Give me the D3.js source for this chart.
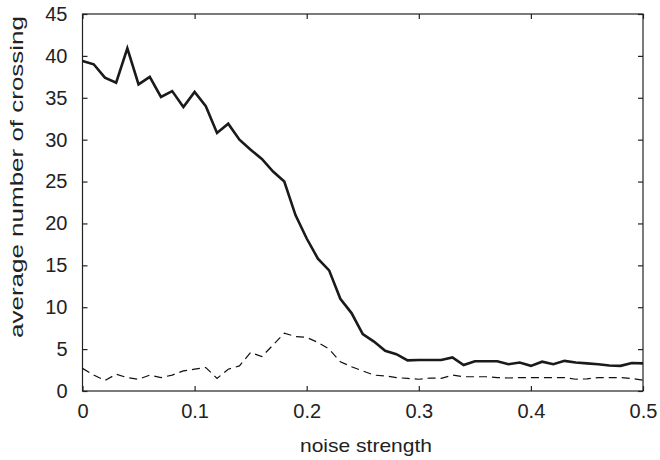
<!DOCTYPE html>
<html>
<head>
<meta charset="utf-8">
<script src="https://cdn.jsdelivr.net/npm/d3@7"></script>
<style>
  html, body { margin: 0; padding: 0; background: #fff; }
  svg { display: block; }
  text { font-family: "Liberation Sans", Arial, sans-serif; fill: #222; }
</style>
</head>
<body>
<svg id="chart" width="660" height="460"></svg>
<script>
const noise = d3.range(51).map(i => +(i * 0.01).toFixed(2));
const solidValues = [
  39.4, 39.0, 37.4, 36.8, 40.9, 36.6, 37.5, 35.1, 35.8, 33.9,
  35.7, 34.0, 30.8, 31.9, 30.0, 28.8, 27.7, 26.2, 25.0, 21.0,
  18.2, 15.8, 14.4, 11.0, 9.3, 6.8, 5.9, 4.8, 4.4, 3.65,
  3.7, 3.7, 3.7, 4.0, 3.1, 3.55, 3.55, 3.55, 3.2, 3.4,
  3.0, 3.5, 3.2, 3.6, 3.4, 3.3, 3.2, 3.05, 3.0, 3.35, 3.3
];
const dashedValues = [
  2.7, 1.9, 1.25, 2.0, 1.6, 1.4, 1.9, 1.6, 1.9, 2.4,
  2.6, 2.8, 1.5, 2.6, 3.0, 4.6, 4.1, 5.5, 6.9, 6.5,
  6.4, 5.8, 5.0, 3.5, 2.9, 2.4, 1.9, 1.8, 1.6, 1.5,
  1.4, 1.55, 1.5, 1.9, 1.7, 1.7, 1.7, 1.6, 1.55, 1.6,
  1.6, 1.6, 1.6, 1.6, 1.4, 1.45, 1.6, 1.6, 1.6, 1.5, 1.3
];
const xTicks = [0, 0.1, 0.2, 0.3, 0.4, 0.5];
const yTicks = [0, 5, 10, 15, 20, 25, 30, 35, 40, 45];
const xLabel = "noise strength";
const yLabel = "average number of crossing";

const svg = d3.select("#chart");
const m = { left: 82.5, right: 643, top: 14, bottom: 391 };
const x = d3.scaleLinear().domain([0, 0.5]).range([m.left, m.right]);
const y = d3.scaleLinear().domain([0, 45]).range([m.bottom, m.top]);

const tickLen = 5;
svg.append("rect")
  .attr("x", m.left).attr("y", m.top)
  .attr("width", m.right - m.left).attr("height", m.bottom - m.top)
  .attr("fill", "none").attr("stroke", "#222").attr("stroke-width", 1.2);

const fmtX = d => d === 0 ? "0" : d3.format(".1f")(d);

const gB = svg.append("g").attr("transform", `translate(0,${m.bottom})`)
  .call(d3.axisBottom(x).tickValues(xTicks).tickSize(-tickLen).tickPadding(13).tickFormat(fmtX));
const gT = svg.append("g").attr("transform", `translate(0,${m.top})`)
  .call(d3.axisTop(x).tickValues(xTicks).tickSize(-tickLen).tickFormat(""));
const gL = svg.append("g").attr("transform", `translate(${m.left},0)`)
  .call(d3.axisLeft(y).tickValues(yTicks).tickSize(-tickLen).tickPadding(15));
const gR = svg.append("g").attr("transform", `translate(${m.right},0)`)
  .call(d3.axisRight(y).tickValues(yTicks).tickSize(-tickLen).tickFormat(""));

[gB, gT, gL, gR].forEach(g => {
  g.select(".domain").remove();
  g.selectAll(".tick line").attr("stroke", "#222").attr("stroke-width", 1.2);
  g.selectAll(".tick text").attr("font-size", 20).attr("fill", "#222")
    .style("font-family", "'Liberation Sans', Arial, sans-serif");
});

const line = d3.line().x((d, i) => x(noise[i])).y(d => y(d));

svg.append("clipPath").attr("id", "clip").append("rect")
  .attr("x", m.left).attr("y", m.top).attr("width", m.right - m.left).attr("height", m.bottom - m.top);

svg.append("path").datum(dashedValues)
  .attr("clip-path", "url(#clip)")
  .attr("d", line).attr("fill", "none").attr("stroke", "#111")
  .attr("stroke-width", 1.2).attr("stroke-dasharray", "8,5");

svg.append("path").datum(solidValues)
  .attr("clip-path", "url(#clip)")
  .attr("d", line).attr("fill", "none").attr("stroke", "#1a1a1a")
  .attr("stroke-width", 2.6).attr("stroke-linejoin", "miter");

svg.append("text").attr("x", 366).attr("y", 452)
  .attr("text-anchor", "middle").attr("font-size", 19)
  .attr("textLength", 132).attr("lengthAdjust", "spacingAndGlyphs").text(xLabel);

svg.append("text").attr("transform", `translate(23,177) rotate(-90)`)
  .attr("text-anchor", "middle").attr("font-size", 19)
  .attr("textLength", 322).attr("lengthAdjust", "spacingAndGlyphs").text(yLabel);
</script>
</body>
</html>
